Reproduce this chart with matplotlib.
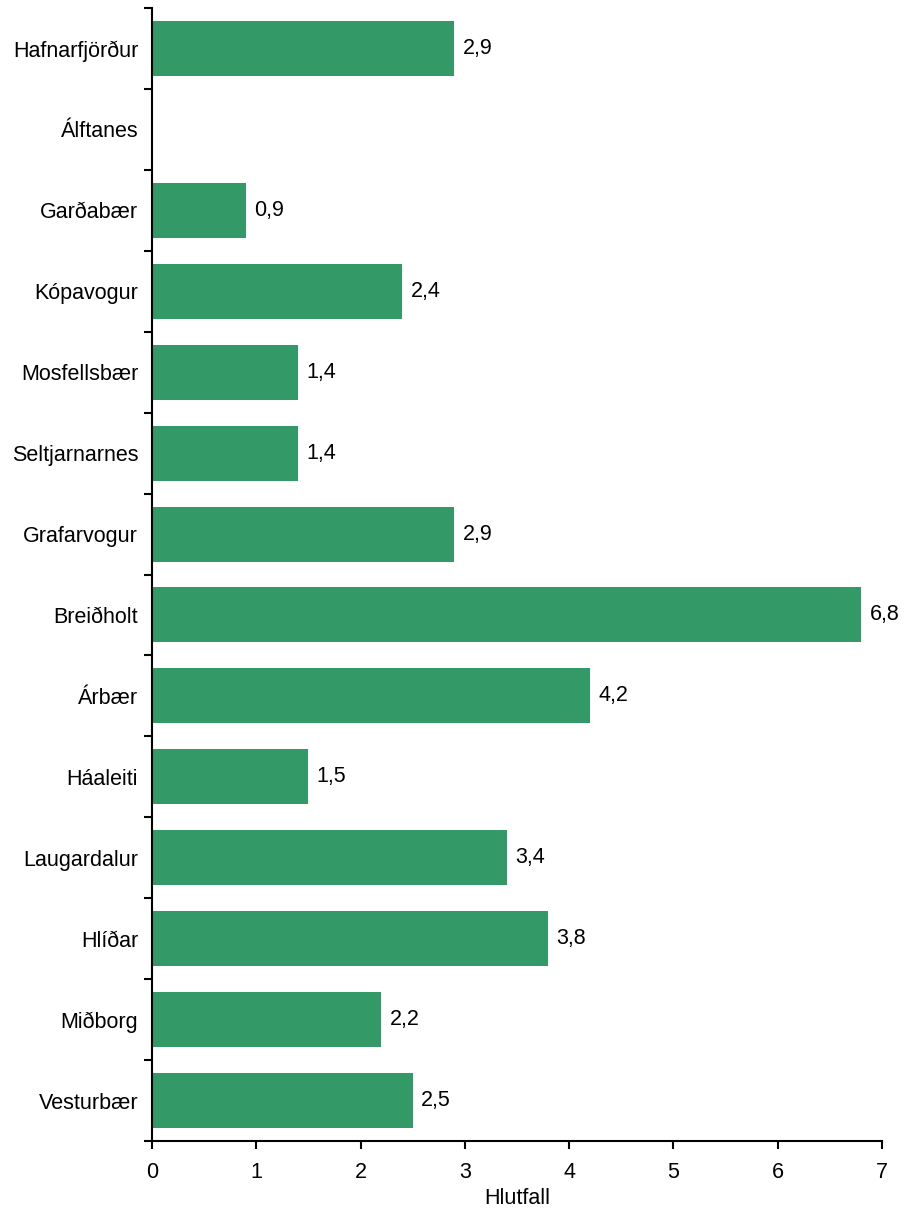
import matplotlib
matplotlib.use("Agg")
import matplotlib.pyplot as plt
import numpy as np

categories = ["Hafnarfjörður", "Álftanes", "Garðabær", "Kópavogur", "Mosfellsbær",
              "Seltjarnarnes", "Grafarvogur", "Breiðholt", "Árbær", "Háaleiti",
              "Laugardalur", "Hlíðar", "Miðborg", "Vesturbær"]
values = [2.9, np.nan, 0.9, 2.4, 1.4, 1.4, 2.9, 6.8, 4.2, 1.5, 3.4, 3.8, 2.2, 2.5]
xticks = [0, 1, 2, 3, 4, 5, 6, 7]

plt.rcParams['font.family'] = ['Liberation Sans', 'DejaVu Sans']
plt.rcParams['font.size'] = 15.5

fig = plt.figure(figsize=(9.05, 12.1), dpi=100)
ax = fig.add_axes([0.168, 0.057, 0.9746 - 0.168, 0.9934 - 0.057])

n = len(categories)
ypos = np.arange(n)
vals = np.array(values, dtype=float)
ax.barh(ypos, np.nan_to_num(vals), height=0.68, color="#339966")
for y, v in zip(ypos, vals):
    if not np.isnan(v):
        ax.text(v + 0.08, y, f"{v:.1f}".replace(".", ","), va="center", ha="left", fontsize=15.5)

ax.set_ylim(n - 0.5, -0.5)
ax.set_xlim(0, 7)
ax.set_xticks(xticks)
ax.set_xticklabels([str(t) for t in xticks])
ax.set_yticks(ypos)
ax.set_yticklabels(categories)
ax.tick_params(axis='y', which='major', length=0, pad=10)
ax.set_yticks(np.arange(n + 1) - 0.5, minor=True)
ax.tick_params(axis='y', which='minor', length=6, width=1.5, direction='out')
ax.tick_params(axis='x', length=6, width=1.5, direction='out', pad=9)
for s in ["top", "right"]:
    ax.spines[s].set_visible(False)
for s in ["left", "bottom"]:
    ax.spines[s].set_linewidth(1.5)
ax.set_xlabel("Hlutfall", labelpad=4)

fig.savefig("out.png", dpi=100)
